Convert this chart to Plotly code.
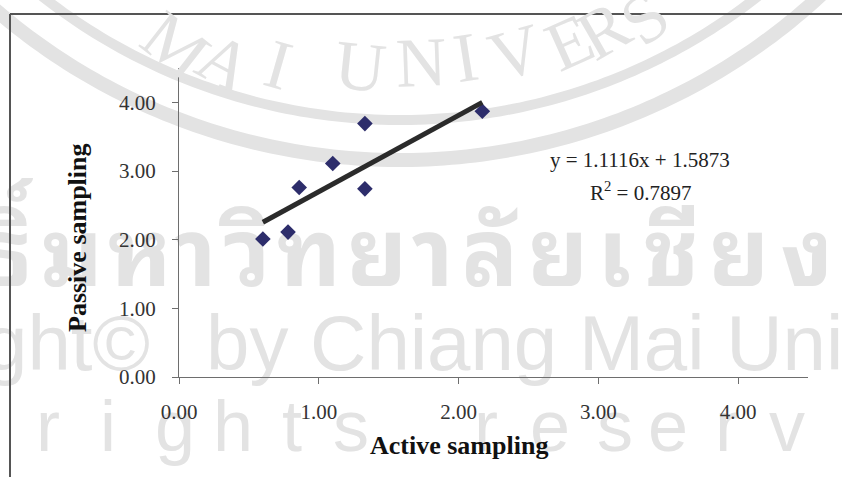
import numpy as np
import plotly.graph_objects as go

# ---- data -------------------------------------------------------------
active = [0.60, 0.78, 0.86, 1.10, 1.33, 1.33, 2.17]
passive = [2.01, 2.11, 2.76, 3.11, 3.69, 2.74, 3.87]
slope, intercept, r_squared = 1.1116, 1.5873, 0.7897
x_ticks = [0, 1, 2, 3, 4]
y_ticks = [0, 1, 2, 3, 4]
x_title = "Active sampling"
y_title = "Passive sampling"

# ---- page geometry (pixels) --------------------------------------------
W, H = 842, 477
L, R, T, B = 179, 808, 68, 377          # plot area edges
XMAX = YMAX = 4.5

WM = "#e3e3e3"   # watermark grey
SERIF = "Liberation Serif, Times New Roman, serif"
SANS = "Liberation Sans, Arial, sans-serif"
THAI = ("Noto Sans Thai Looped, Noto Sans Thai, Noto Serif Thai, Loma, Garuda, "
        "Tlwg Typo, sans-serif")

fig = go.Figure()

# ---- watermark layer: a full-page subplot in pixel units (x, y) ----------
def wm_text(items, size, family, position, weight="normal"):
    fig.add_trace(go.Scatter(
        x=[p[1] for p in items], y=[p[2] for p in items],
        text=[p[0] for p in items], mode="text", textposition=position,
        textfont=dict(size=size, family=family, color=WM, weight=weight),
        hoverinfo="skip", showlegend=False, cliponaxis=True,
        xaxis="x", yaxis="y"))


thai = [("ธิ์", 4), ("ม", 72), ("ห", 140), ("า", 196), ("วิ", 247), ("ท", 309),
        ("ย", 377), ("า", 433), ("ลั", 490), ("ย", 558), ("เ", 614), ("ชี", 671),
        ("ย", 739), ("ง", 807)]
wm_text([(c, x, 262) for c, x in thai], 94, THAI, "middle center", weight="bold")
wm_text([("Copyright©", 150, 350)], 78, SANS, "middle left")
wm_text([("by Chiang Mai University", 206, 350)], 78, SANS, "middle right")
rights = [("r", 48), ("i", 108), ("g", 175), ("h", 233), ("t", 292),
          ("s", 351), ("r", 486), ("e", 550), ("s", 615), ("e", 668),
          ("r", 727), ("v", 787)]
wm_text([(c, x, 433) for c, x in rights], 72, SANS, "middle center")

# ---- scatter points and fitted line (data subplot x2, y2) ---------------
fig.add_trace(go.Scatter(
    x=active, y=passive, mode="markers",
    marker=dict(symbol="diamond", size=12, color="#2d2d6b"),
    showlegend=False, cliponaxis=False, xaxis="x2", yaxis="y2"))

x_fit = np.array([min(active), max(active)])
fig.add_trace(go.Scatter(
    x=x_fit, y=slope * x_fit + intercept, mode="lines",
    line=dict(color="#2b2b2b", width=5),
    showlegend=False, cliponaxis=False, xaxis="x2", yaxis="y2"))

# ---- watermark rings ----------------------------------------------------
shapes = []
cx, cy = 400, -460
for radius, width in [(620, 14), (580, 10)]:
    theta = np.linspace(0.05, np.pi - 0.05, 240)
    xs = cx + radius * np.cos(theta)
    ys = cy + radius * np.sin(theta)
    keep = ys > -30
    path = "M " + " L ".join(f"{a:.2f},{b:.2f}" for a, b in zip(xs[keep], ys[keep]))
    shapes.append(dict(type="path", path=path, xref="x", yref="y",
                       line=dict(color=WM, width=width), layer="below"))

# outer frame (top and left edges)
shapes.append(dict(type="line", xref="x", yref="y", x0=10, x1=850, y0=14, y1=14,
                   line=dict(color="#555555", width=2), layer="above"))
shapes.append(dict(type="line", xref="x", yref="y", x0=10, x1=10, y0=14, y1=485,
                   line=dict(color="#555555", width=2), layer="above"))

# ---- annotations --------------------------------------------------------
annotations = []
arc_letters = [("M", 176, 45, 38), ("A", 225, 62, 28), ("I", 278, 64, 16),
               ("U", 360, 66, 6), ("N", 421, 62, -2), ("I", 465, 57, -9),
               ("V", 515, 52, -16), ("E", 569, 42, -24), ("R", 603, 30, -30),
               ("S", 644, 18, -37)]
for ch, x, y, ang in arc_letters:
    annotations.append(dict(text=ch, x=x, y=y, xref="x", yref="y",
                            showarrow=False, textangle=ang,
                            font=dict(family=SERIF, size=70, color=WM),
                            xanchor="center", yanchor="middle"))


def label(text, x, y, size, color, angle=0):
    annotations.append(dict(text=text, x=x, y=y, xref="x", yref="y",
                            showarrow=False, xanchor="center", yanchor="middle",
                            textangle=angle,
                            font=dict(family=SERIF, size=size, color=color)))


label(f"y = {slope:.4f}x + {intercept:.4f}", 640, 160, 21, "#222222")
label(f"R<sup>2</sup> = {r_squared:.4f}", 640, 191, 21, "#222222")
label(f"<b>{x_title}</b>", 459, 445, 26, "#111111")
label(f"<b>{y_title}</b>", 77, 238, 26, "#111111", angle=-90)

axis_common = dict(
    range=[0, XMAX], showgrid=False, zeroline=False, showline=True,
    linecolor="#6e6e6e", linewidth=1.3, ticks="outside", ticklen=6,
    tickcolor="#6e6e6e", tickwidth=1.3, tickformat=".2f", automargin=False,
    tickfont=dict(family=SERIF, size=21, color="#333333"), fixedrange=True)

hidden = dict(visible=False, showgrid=False, zeroline=False, fixedrange=True,
              automargin=False)

fig.update_layout(
    width=W, height=H,
    margin=dict(l=0, r=0, t=0, b=0, pad=0, autoexpand=False),
    paper_bgcolor="white", plot_bgcolor="rgba(0,0,0,0)",
    xaxis=dict(domain=[0, 1], range=[0, W], **hidden),
    yaxis=dict(domain=[0, 1], range=[H, 0], **hidden),
    xaxis2=dict(domain=[L / W, R / W], anchor="y2", tickvals=x_ticks,
                ticklabelstandoff=10, **axis_common),
    yaxis2=dict(domain=[(H - B) / H, (H - T) / H], anchor="x2", tickvals=y_ticks,
                ticklabelstandoff=12, **axis_common),
    shapes=shapes, annotations=annotations, showlegend=False)

fig.write_html("out.html")
